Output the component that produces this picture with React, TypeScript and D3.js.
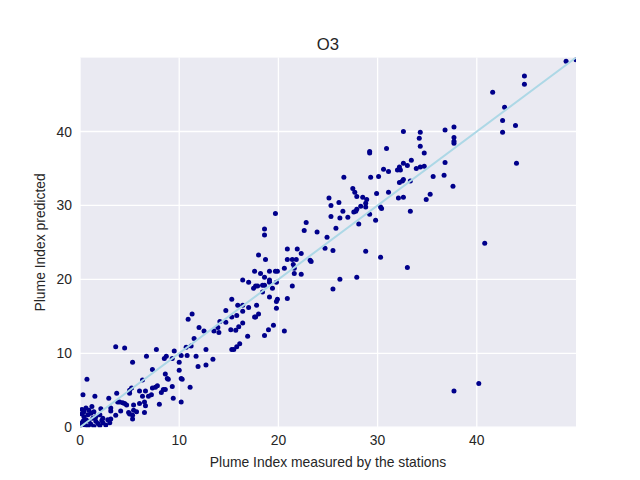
import React from "react";
import * as d3 from "d3";

const title = "O3";
const xLabel = "Plume Index measured by the stations";
const yLabel = "Plume Index predicted";
const xTicks = [0, 10, 20, 30, 40];
const yTicks = [0, 10, 20, 30, 40];

// measured (x) values
const measured = [
  0.7, 0.3, 1.5, 2.9, 0.6, 0.9, 0.4, 1.1, 1.4, 0.8, 0.4, 1.3, 1.6, 2.0, 2.1, 2.3, 0.6, 0.9, 1.6, 2.3,
  3.0, 2.8, 3.1, 3.1, 3.1, 0.1, 0.3, 0.0, 0.8, 1.4, 2.0, 1.2, 0.2, 0.5, 1.1, 2.6, 1.8, 0.2, 2.2,
  11.3, 10.9, 12.0, 12.5, 11.5, 3.6, 4.5, 7.7, 10.7, 11.2, 12.7, 6.7, 8.7, 8.5, 9.5, 10.2, 10.8, 11.7,
  9.3, 5.3, 10.0, 12.7, 11.9, 7.3, 10.0, 8.6, 8.8, 8.9, 6.3, 10.2, 10.3, 5.2, 5.0, 7.8, 7.6, 7.3, 9.3,
  8.6, 11.1, 3.7, 5.0, 6.0, 6.6, 6.3, 6.9, 7.2, 8.2, 8.4, 9.4, 10.2, 8.0, 3.8, 4.0, 4.3, 4.5, 4.7, 5.4,
  6.0, 6.5, 6.6, 4.1, 4.9, 3.6, 5.0, 5.4, 5.7, 5.3, 5.3, 6.5,
  15.3, 19.1, 19.9, 19.8, 20.9, 19.8, 14.7, 15.9, 16.4, 17.0, 17.8, 16.4, 15.8, 15.3, 14.1, 14.7, 13.9,
  13.5, 14.0, 15.2, 15.7, 16.0, 16.4, 17.6, 17.7, 18.0, 18.6, 19.0, 19.5, 20.6, 16.9, 16.1, 15.8, 15.3,
  15.5, 13.4,
  19.7, 18.6, 18.6, 18.0, 18.7, 17.6, 18.2, 18.6, 19.1, 19.7, 19.9, 16.4, 17.0, 17.5, 17.7, 17.9, 18.4,
  18.6, 19.1, 19.1, 19.4, 19.8, 18.4, 20.6, 20.9, 21.9, 22.3, 20.9, 21.4, 21.8, 21.5, 21.6, 21.6, 22.3,
  21.4, 23.2, 23.3, 22.6, 22.8, 23.9, 24.9, 24.7, 25.1,
  26.6, 29.3, 30.1, 27.5, 27.7, 27.9, 28.5, 28.9, 29.9, 31.1, 32.2, 32.6, 32.5, 33.3, 35.6, 36.7, 37.6,
  25.3, 26.1, 28.8, 28.8, 28.3, 26.5, 25.3, 26.2, 27.0, 27.6, 27.8, 27.9, 29.2, 30.3, 30.4, 29.8, 28.1,
  32.1, 32.6, 34.9, 35.3, 33.3, 25.8, 25.5, 28.8, 30.3, 33.0, 26.2, 27.9, 25.5,
  32.6, 34.3, 34.2, 34.3, 34.7, 36.8, 36.8, 29.2, 29.2, 30.9, 33.4, 32.6, 33.0, 32.2, 32.0, 32.3, 30.6,
  31.1, 33.9, 34.3, 34.7,
  49.0, 50.0, 44.8, 44.8, 41.6, 42.8, 42.6, 43.9, 42.6, 44.0, 37.7, 37.7, 37.7, 37.7,
  40.8, 37.7, 40.2,
];

// predicted (y) values
const predicted = [
  6.5, 4.4, 4.2, 3.9, 2.6, 2.3, 2.1, 1.9, 2.1, 1.7, 1.4, 1.2, 1.4, 1.7, 2.5, 1.2, 1.0, 0.8, 0.8, 0.6,
  0.6, 1.0, 2.6, 2.2, 1.1, 0.5, 0.8, 0.1, 0.1, 0.1, 0.2, 2.8, 2.4, 0.3, 0.4, 0.3, 0.5, 1.8, 0.9,
  15.3, 14.6, 13.5, 13.0, 12.0, 10.9, 10.7, 10.5, 10.8, 11.0, 10.5, 9.6, 9.6, 9.3, 10.3, 9.7, 9.7, 9.6,
  9.3, 8.8, 8.8, 8.4, 8.2, 7.8, 7.7, 7.2, 6.6, 6.5, 6.4, 6.6, 6.5, 5.3, 5.0, 5.6, 5.4, 5.3, 5.5,
  5.1, 5.4, 4.6, 4.6, 4.9, 4.9, 4.2, 4.2, 4.4, 4.7, 5.1, 3.9, 3.4, 3.1, 3.4, 3.4, 3.3, 3.2, 3.0, 3.0,
  3.2, 3.4, 2.9, 2.2, 2.0, 1.6, 1.8, 2.3, 2.1, 1.6, 1.1, 2.0,
  17.3, 17.6, 17.3, 17.0, 17.4, 16.1, 15.8, 16.5, 16.5, 16.2, 16.5, 15.7, 15.1, 14.9, 14.3, 14.2, 13.5,
  13.0, 12.8, 13.2, 13.1, 13.6, 14.1, 14.9, 14.9, 15.3, 12.4, 13.2, 13.8, 13.0, 12.3, 11.3, 10.9, 10.5,
  10.5, 9.2,
  28.9, 26.8, 26.0, 23.3, 22.7, 21.1, 20.8, 20.3, 21.1, 21.1, 21.1, 19.9, 19.6, 18.8, 19.1, 19.1, 19.2,
  19.2, 19.9, 19.6, 18.8, 19.6, 18.3, 21.5, 24.1, 24.1, 23.5, 22.7, 22.7, 22.7, 22.0, 21.5, 20.8, 20.7,
  19.1, 22.6, 22.4, 26.6, 27.7, 26.4, 25.7, 24.2, 31.0,
  33.8, 33.8, 33.9, 32.3, 31.8, 31.2, 31.1, 30.8, 31.6, 31.8, 33.1, 33.5, 33.3, 33.3, 33.9, 34.1, 32.6,
  30.0, 30.4, 30.3, 29.8, 29.9, 29.2, 28.5, 28.3, 28.4, 29.1, 29.2, 29.5, 28.8, 29.8, 29.6, 28.0, 27.5,
  31.0, 31.1, 30.8, 31.5, 29.2, 26.9, 23.9, 23.8, 23.0, 21.6, 20.0, 20.3, 18.7,
  40.0, 39.9, 39.1, 38.0, 37.1, 40.2, 35.8, 37.3, 37.1, 37.7, 36.1, 35.7, 35.4, 35.2, 34.8, 34.8, 34.9,
  34.6, 35.0, 35.2, 35.3,
  49.5, 49.7, 47.5, 46.4, 45.3, 43.3, 41.5, 40.8, 39.9, 35.7, 40.6, 39.2, 38.7, 38.4,
  24.9, 4.9, 5.9,
];

const W = 640;
const H = 480;
const left = 80;
const right = 576;
const top = 57.6;
const bottom = 427.2;

export default function App() {
  const x = d3.scaleLinear().domain([0, 50]).range([left, right]);
  const y = d3.scaleLinear().domain([0, 50]).range([bottom, top]);
  const pts = measured.map((m, i) => [m, predicted[i]] as [number, number]);
  const line = d3.line<[number, number]>().x((d) => x(d[0])).y((d) => y(d[1]));
  const font = "'Liberation Sans', Arial, sans-serif";
  const textColor = "#262626";

  return (
    <svg
      width={W}
      height={H}
      style={{ position: "absolute", left: 0, top: 0, background: "#fff" }}
      fontFamily={font}
    >
      <defs>
        <clipPath id="plotclip">
          <rect x={left} y={top} width={right - left} height={bottom - top} />
        </clipPath>
      </defs>
      <rect x={left} y={top} width={right - left} height={bottom - top} fill="#EAEAF2" />
      {xTicks.map((t) => (
        <line key={"gx" + t} x1={x(t)} x2={x(t)} y1={top} y2={bottom} stroke="#fff" strokeWidth={1.3} />
      ))}
      {yTicks.map((t) => (
        <line key={"gy" + t} x1={left} x2={right} y1={y(t)} y2={y(t)} stroke="#fff" strokeWidth={1.3} />
      ))}
      <g clipPath="url(#plotclip)">
        {pts.map((p, i) => (
          <circle key={i} cx={x(p[0])} cy={y(p[1])} r={2.5} fill="#00008B" />
        ))}
        <path d={line([[0, 0], [50, 50]]) || ""} stroke="#ADD8E6" strokeWidth={2} fill="none" />
      </g>
      {xTicks.map((t) => (
        <text key={"tx" + t} x={x(t)} y={445} textAnchor="middle" fontSize={13.9} fill={textColor}>
          {t}
        </text>
      ))}
      {yTicks.map((t) => (
        <text key={"ty" + t} x={72} y={y(t) + 5} textAnchor="end" fontSize={13.9} fill={textColor}>
          {t}
        </text>
      ))}
      <text x={(left + right) / 2} y={467} textAnchor="middle" fontSize={13.9} fill={textColor}>
        {xLabel}
      </text>
      <text
        transform={`translate(45, ${(top + bottom) / 2}) rotate(-90)`}
        textAnchor="middle"
        fontSize={13.9}
        fill={textColor}
      >
        {yLabel}
      </text>
      <text x={(left + right) / 2} y={50} textAnchor="middle" fontSize={16.7} fill={textColor}>
        {title}
      </text>
    </svg>
  );
}
